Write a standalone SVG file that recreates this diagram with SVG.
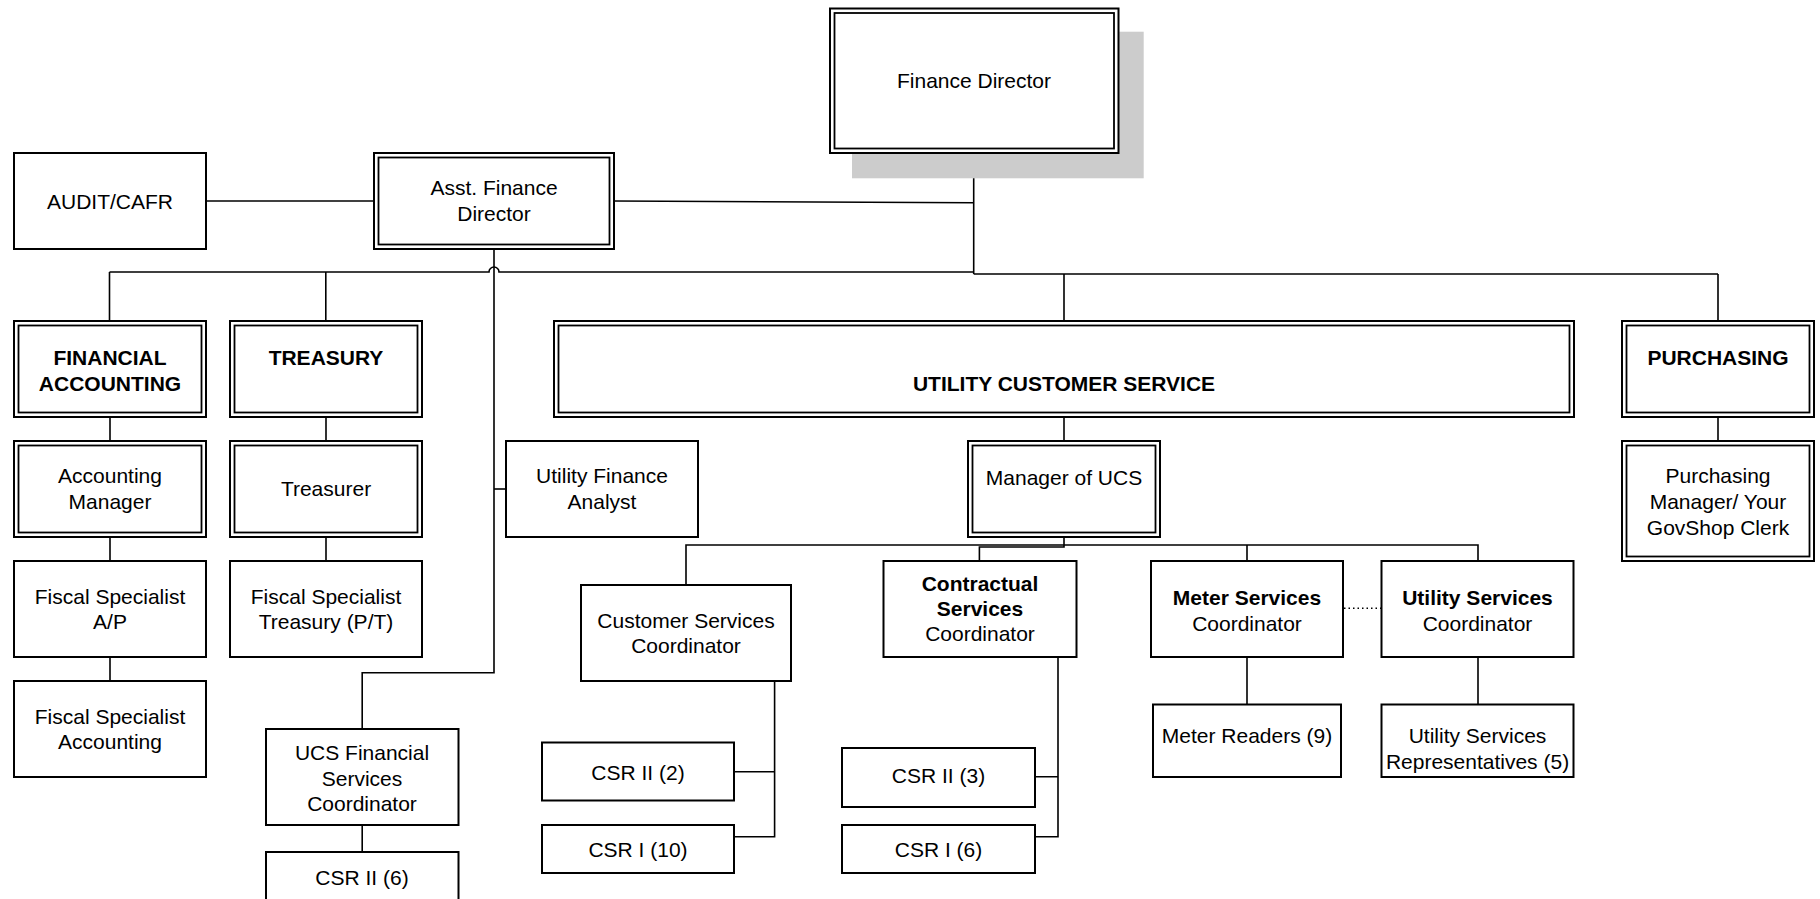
<svg xmlns="http://www.w3.org/2000/svg" width="1820" height="899" viewBox="0 0 1820 899">
<style>
.b{fill:#fff;stroke:#000;stroke-width:2}
.bi{fill:none;stroke:#000;stroke-width:1.8}
.c{fill:none;stroke:#000;stroke-width:1.6}
.dot{fill:none;stroke:#000;stroke-width:1.4;stroke-dasharray:1.5 3}
text{font-family:"Liberation Sans",Arial,sans-serif;font-size:21px;fill:#000;text-anchor:middle}
.bd{font-weight:bold}
</style>
<rect x="0" y="0" width="1820" height="899" fill="#fff"/>
<g id="connectors">
<path class="c" d="M206 201 H374"/>
<path class="c" d="M614 201 L973.7 202.7"/>
<path class="c" d="M973.7 153 V274"/>
<path class="c" d="M109.5 272 H489 A5 5 0 0 1 499 272 H973.7"/>
<path class="c" d="M109.5 272 V321 M325.8 272 V321"/>
<path class="c" d="M973.7 274 H1718 M1064 274 V321 M1718 274 V321"/>
<path class="c" d="M494 249 V672.7 H362.2 V729"/>
<path class="c" d="M494 489 H506"/>
<path class="c" d="M110 417 V441 M110 537 V561 M110 657 V681"/>
<path class="c" d="M326 417 V441 M326 537 V561"/>
<path class="c" d="M362.2 825 V852"/>
<path class="c" d="M1064 417 V441"/>
<path class="c" d="M1064 537 V547 H979.4 V561"/>
<path class="c" d="M686 585 V545 H1478 V561 M1247 545 V561"/>
<path class="c" d="M774.6 681 V836.7 H734 M774.6 771.7 H734"/>
<path class="c" d="M1058 657 V836.7 H1035 M1058 776.7 H1035"/>
<path class="c" d="M1247 657 V704.5 M1478 657 V704.5"/>
<path class="c" d="M1718 417 V441"/>
<path class="dot" d="M1344 608.3 H1381"/>
</g>
<g id="finance-director">
<rect x="852" y="31.7" width="291.7" height="146.6" fill="#cccccc"/>
<rect class="b" x="830" y="8.5" width="288.5" height="144.5"/>
<rect class="bi" x="834.5" y="13" width="279.5" height="135.5"/>
<text x="974" y="88.3">Finance Director</text>
</g>
<g id="audit-cafr">
<rect class="b" x="14" y="153" width="192" height="96"/>
<text x="110" y="208.5">AUDIT/CAFR</text>
</g>
<g id="asst-finance-director">
<rect class="b" x="374" y="153" width="240" height="96"/>
<rect class="bi" x="378.5" y="157.5" width="231" height="87"/>
<text x="494" y="195">Asst. Finance</text>
<text x="494" y="220.5">Director</text>
</g>
<g id="financial-accounting">
<rect class="b" x="14" y="321" width="192" height="96"/>
<rect class="bi" x="18.5" y="325.5" width="183" height="87"/>
<text class="bd" x="110" y="365">FINANCIAL</text>
<text class="bd" x="110" y="391">ACCOUNTING</text>
</g>
<g id="treasury">
<rect class="b" x="230" y="321" width="192" height="96"/>
<rect class="bi" x="234.5" y="325.5" width="183" height="87"/>
<text class="bd" x="326" y="365">TREASURY</text>
</g>
<g id="utility-customer-service">
<rect class="b" x="554" y="321" width="1020" height="96"/>
<rect class="bi" x="558.5" y="325.5" width="1011" height="87"/>
<text class="bd" x="1064" y="391">UTILITY CUSTOMER SERVICE</text>
</g>
<g id="purchasing">
<rect class="b" x="1622" y="321" width="192" height="96"/>
<rect class="bi" x="1626.5" y="325.5" width="183" height="87"/>
<text class="bd" x="1718" y="365">PURCHASING</text>
</g>
<g id="accounting-manager">
<rect class="b" x="14" y="441" width="192" height="96"/>
<rect class="bi" x="18.5" y="445.5" width="183" height="87"/>
<text x="110" y="482.7">Accounting</text>
<text x="110" y="508.7">Manager</text>
</g>
<g id="treasurer">
<rect class="b" x="230" y="441" width="192" height="96"/>
<rect class="bi" x="234.5" y="445.5" width="183" height="87"/>
<text x="326" y="496">Treasurer</text>
</g>
<g id="utility-finance-analyst">
<rect class="b" x="506" y="441" width="192" height="96"/>
<text x="602" y="483">Utility Finance</text>
<text x="602" y="508.7">Analyst</text>
</g>
<g id="manager-ucs">
<rect class="b" x="968" y="441" width="192" height="96"/>
<rect class="bi" x="972.5" y="445.5" width="183" height="87"/>
<text x="1064" y="485">Manager of UCS</text>
</g>
<g id="purchasing-manager">
<rect class="b" x="1622" y="441" width="192" height="120"/>
<rect class="bi" x="1626.5" y="445.5" width="183" height="111"/>
<text x="1718" y="483.3">Purchasing</text>
<text x="1718" y="509">Manager/ Your</text>
<text x="1718" y="534.5">GovShop Clerk</text>
</g>
<g id="fiscal-ap">
<rect class="b" x="14" y="561" width="192" height="96"/>
<text x="110" y="604">Fiscal Specialist</text>
<text x="110" y="628.5">A/P</text>
</g>
<g id="fiscal-treasury">
<rect class="b" x="230" y="561" width="192" height="96"/>
<text x="326" y="604">Fiscal Specialist</text>
<text x="326" y="628.5">Treasury (P/T)</text>
</g>
<g id="customer-services-coordinator">
<rect class="b" x="581" y="585" width="210" height="96"/>
<text x="686" y="628">Customer Services</text>
<text x="686" y="653">Coordinator</text>
</g>
<g id="contractual-services">
<rect class="b" x="883.5" y="561" width="193" height="96"/>
<text class="bd" x="980" y="591">Contractual</text>
<text class="bd" x="980" y="615.5">Services</text>
<text x="980" y="641">Coordinator</text>
</g>
<g id="meter-services">
<rect class="b" x="1151" y="561" width="192" height="96"/>
<text class="bd" x="1247" y="605">Meter Services</text>
<text x="1247" y="631">Coordinator</text>
</g>
<g id="utility-services">
<rect class="b" x="1381.5" y="561" width="192" height="96"/>
<text class="bd" x="1477.5" y="605">Utility Services</text>
<text x="1477.5" y="631">Coordinator</text>
</g>
<g id="fiscal-accounting">
<rect class="b" x="14" y="681" width="192" height="96"/>
<text x="110" y="724">Fiscal Specialist</text>
<text x="110" y="748.5">Accounting</text>
</g>
<g id="meter-readers">
<rect class="b" x="1153" y="704.5" width="188" height="72.5"/>
<text x="1247" y="742.5">Meter Readers (9)</text>
</g>
<g id="utility-services-reps">
<rect class="b" x="1381.5" y="704.5" width="192" height="72.5"/>
<text x="1477.5" y="742.7">Utility Services</text>
<text x="1477.5" y="769">Representatives (5)</text>
</g>
<g id="ucs-financial-services">
<rect class="b" x="266" y="729" width="192.5" height="96"/>
<text x="362" y="760">UCS Financial</text>
<text x="362" y="785.5">Services</text>
<text x="362" y="810.5">Coordinator</text>
</g>
<g id="csr2-6">
<rect class="b" x="266" y="852" width="192.5" height="70"/>
<text x="362" y="885">CSR II (6)</text>
</g>
<g id="csr2-2">
<rect class="b" x="542" y="742.5" width="192" height="58"/>
<text x="638" y="779.5">CSR II (2)</text>
</g>
<g id="csr1-10">
<rect class="b" x="542" y="825" width="192" height="48"/>
<text x="638" y="856.7">CSR I (10)</text>
</g>
<g id="csr2-3">
<rect class="b" x="842" y="748" width="193" height="59"/>
<text x="938.5" y="782.7">CSR II (3)</text>
</g>
<g id="csr1-6">
<rect class="b" x="842" y="825" width="193" height="48"/>
<text x="938.5" y="856.7">CSR I (6)</text>
</g>
</svg>
